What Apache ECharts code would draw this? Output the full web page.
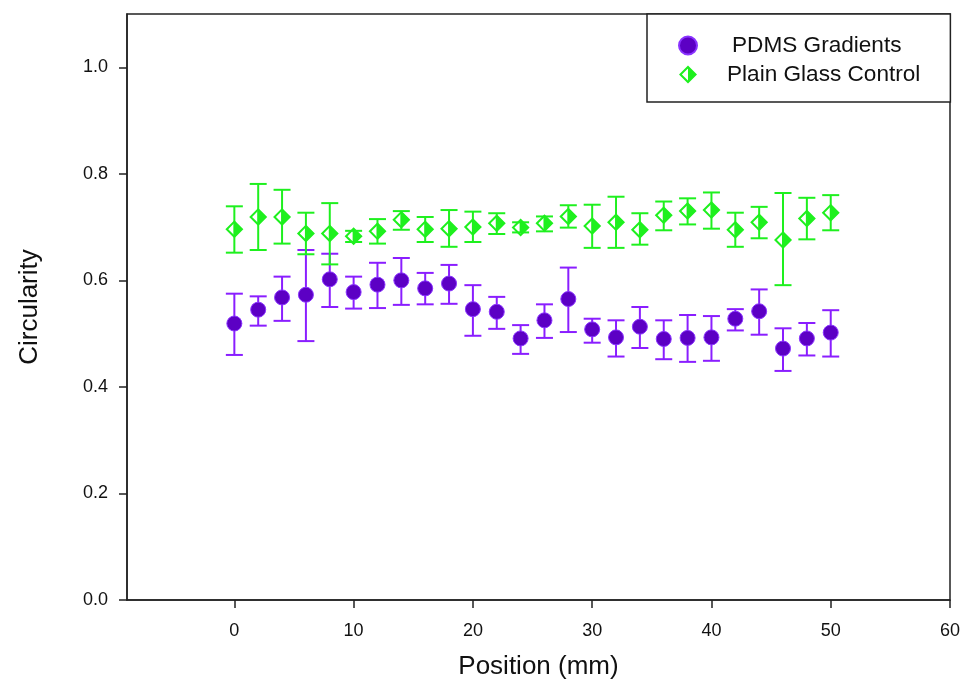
<!DOCTYPE html>
<html>
<head>
<meta charset="utf-8">
<script src="https://cdn.jsdelivr.net/npm/echarts@6/dist/echarts.min.js"></script>
<style>html,body{margin:0;padding:0;background:#fff;}#c{width:969px;height:688px;}</style>
</head>
<body>
<div id="c"></div>
<script>
const positions = [0,2,4,6,8,10,12,14,16,18,20,22,24,26,28,30,32,34,36,38,40,42,44,46,48,50];

const pdmsMean = [0.519,0.545,0.568,0.573,0.602,0.578,0.592,0.600,0.585,0.594,0.546,0.541,0.491,0.525,0.565,0.508,0.493,0.513,0.490,0.492,0.493,0.528,0.542,0.472,0.491,0.502];
const pdmsHigh = [0.575,0.570,0.607,0.657,0.650,0.607,0.633,0.642,0.614,0.629,0.591,0.569,0.516,0.555,0.624,0.528,0.525,0.550,0.525,0.535,0.533,0.546,0.583,0.510,0.520,0.544];
const pdmsLow  = [0.460,0.515,0.524,0.486,0.550,0.547,0.548,0.554,0.555,0.556,0.496,0.509,0.462,0.492,0.503,0.483,0.457,0.473,0.452,0.447,0.449,0.506,0.498,0.430,0.459,0.457];

const glassMean = [0.696,0.719,0.719,0.688,0.688,0.683,0.692,0.714,0.696,0.697,0.700,0.707,0.699,0.707,0.720,0.702,0.709,0.695,0.722,0.730,0.732,0.695,0.709,0.676,0.716,0.727];
const glassHigh = [0.739,0.781,0.770,0.727,0.745,0.693,0.715,0.730,0.719,0.732,0.729,0.726,0.709,0.720,0.741,0.742,0.757,0.726,0.748,0.754,0.765,0.727,0.738,0.764,0.755,0.760];
const glassLow  = [0.652,0.657,0.669,0.649,0.630,0.672,0.669,0.695,0.672,0.663,0.672,0.687,0.690,0.692,0.699,0.661,0.661,0.667,0.694,0.705,0.697,0.663,0.679,0.591,0.677,0.694];

const xTicks = [0,10,20,30,40,50,60];
const yTicks = [0,0.2,0.4,0.6,0.8,1.0];

const seriesNames = ['PDMS Gradients','Plain Glass Control'];

const FONT = '"Liberation Sans", Arial, sans-serif';
const PURPLE_BAR = '#8A1EFF';
const PURPLE_FILL = '#5C00C4';
const GREEN = '#1EF01E';
const HALF_DIAMOND = 'path://M50 0 L100 50 L50 100 Z M50 0 L0 50 L50 100 L50 84 L16 50 L50 16 Z';

function errData(lo, hi) {
  return positions.map((p, i) => [p, lo[i], hi[i]]);
}
function ptData(mean) {
  return positions.map((p, i) => [p, mean[i]]);
}
function errRender(color) {
  return function (params, api) {
    const x = api.value(0);
    const lo = api.coord([x, api.value(1)]);
    const hi = api.coord([x, api.value(2)]);
    const hw = 8.5;
    const st = { stroke: color, lineWidth: 2 };
    return {
      type: 'group',
      children: [
        { type: 'line', shape: { x1: lo[0], y1: lo[1], x2: hi[0], y2: hi[1] }, style: st },
        { type: 'line', shape: { x1: hi[0] - hw, y1: hi[1], x2: hi[0] + hw, y2: hi[1] }, style: st },
        { type: 'line', shape: { x1: lo[0] - hw, y1: lo[1], x2: lo[0] + hw, y2: lo[1] }, style: st }
      ]
    };
  };
}

const chart = echarts.init(document.getElementById('c'), null, { renderer: 'canvas' });
chart.setOption({
  animation: false,
  backgroundColor: '#fff',
  textStyle: { fontFamily: FONT },
  grid: {
    left: 127, right: 19, top: 14, bottom: 88,
    show: true, borderColor: '#222', borderWidth: 1.5, backgroundColor: 'transparent'
  },
  legend: {
    orient: 'vertical',
    left: 647, top: 14,
    padding: [20, 30, 16, 31],
    itemWidth: 20, itemHeight: 18, itemGap: 6,
    borderColor: '#222', borderWidth: 1.5, backgroundColor: '#fff',
    data: seriesNames,
    formatter: function (n) { return n === seriesNames[0] ? '{a|' + n + '}' : '{b|' + n + '}'; },
    textStyle: {
      fontFamily: FONT, fontSize: 22.6, color: '#111',
      rich: {
        a: { fontFamily: FONT, fontSize: 22.6, color: '#111', padding: [0, 0, 0, 29] },
        b: { fontFamily: FONT, fontSize: 22.6, color: '#111', padding: [0, 0, 0, 24] }
      }
    }
  },
  xAxis: {
    type: 'value', min: -9, max: 60,
    name: 'Position (mm)', nameLocation: 'middle', nameGap: 54,
    nameTextStyle: { fontFamily: FONT, fontSize: 26, color: '#111' },
    axisLine: { show: true, onZero: false, lineStyle: { color: '#222', width: 1.5 } },
    axisTick: { show: true, length: 8, inside: false, customValues: xTicks, lineStyle: { color: '#222', width: 1.5 } },
    axisLabel: { customValues: xTicks, margin: 22, fontFamily: FONT, fontSize: 18, color: '#111' },
    splitLine: { show: false }
  },
  yAxis: {
    type: 'value', min: 0, max: 1.1,
    name: 'Circularity', nameLocation: 'middle', nameGap: 84,
    nameTextStyle: { fontFamily: FONT, fontSize: 26, color: '#111' },
    axisLine: { show: true, onZero: false, lineStyle: { color: '#222', width: 1.5 } },
    axisTick: { show: true, length: 8, inside: false, customValues: yTicks, lineStyle: { color: '#222', width: 1.5 } },
    axisLabel: { customValues: yTicks, margin: 19, fontFamily: FONT, fontSize: 18, color: '#111',
      formatter: function (v) { return v.toFixed(1); } },
    splitLine: { show: false }
  },
  series: [
    {
      type: 'custom', name: 'pdmsErr', renderItem: errRender(PURPLE_BAR),
      data: errData(pdmsLow, pdmsHigh), z: 2, silent: true
    },
    {
      type: 'custom', name: 'glassErr', renderItem: errRender(GREEN),
      data: errData(glassLow, glassHigh), z: 2, silent: true
    },
    {
      type: 'scatter', name: seriesNames[0], data: ptData(pdmsMean),
      symbol: 'circle', symbolSize: 15, z: 3,
      itemStyle: { color: PURPLE_FILL, borderColor: '#8A33FF', borderWidth: 1, opacity: 1 }
    },
    {
      type: 'scatter', name: seriesNames[1], data: ptData(glassMean),
      symbol: HALF_DIAMOND, symbolSize: 18, z: 3,
      itemStyle: { color: GREEN, opacity: 1 }
    }
  ]
});
</script>
</body>
</html>
